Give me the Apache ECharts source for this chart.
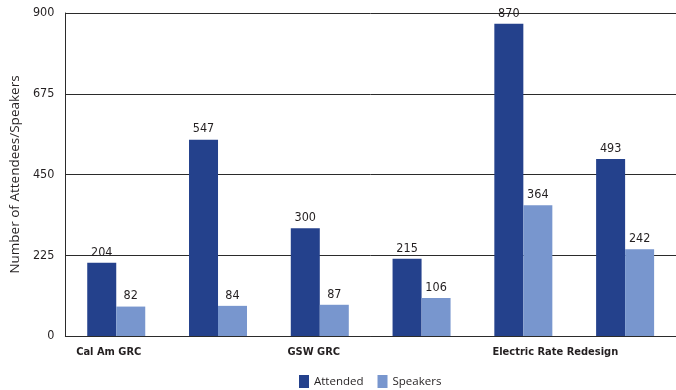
<!DOCTYPE html>
<html>
<head>
<meta charset="utf-8">
<style>
  html, body { margin: 0; padding: 0; background: #ffffff; }
  #chart { width: 676px; height: 390px; }
</style>
<script src="https://cdn.jsdelivr.net/npm/echarts@6/dist/echarts.min.js"></script>
</head>
<body>
<div id="chart"></div>
<script>
// Proceedings: attendance and public speakers per hearing group
const categories = ['Cal Am GRC', '', 'GSW GRC', '', 'Electric Rate Redesign', ''];
const attended = [204, 547, 300, 215, 870, 493];
const speakers = [82, 84, 87, 106, 364, 242];
const yTicks = [0, 225, 450, 675, 900];

// horizontal nudges for the category labels (padding left / right in px)
const labelShift = [[0, 15], null, [0, 12], null, [64, 0], null];

const narrow = "'DejaVu Sans Condensed', 'Liberation Sans Narrow', sans-serif";
const humanist = "'Open Sans', 'Noto Sans', sans-serif";
const lineColor = '#2b2b2b';
const textColor = '#231f20';

const chart = echarts.init(document.getElementById('chart'), null, { renderer: 'canvas' });

const xData = categories.map((c, i) => {
  const s = labelShift[i];
  if (!s) return c;
  return { value: c, textStyle: { padding: [0, s[1], 0, s[0]] } };
});

const valueLabel = {
  show: true,
  position: 'top',
  distance: 4,
  fontFamily: narrow,
  fontSize: 12.5,
  color: textColor
};

chart.setOption({
  animation: false,
  backgroundColor: '#ffffff',
  grid: { left: 62, right: -3, top: 13, bottom: 54, containLabel: false },
  legend: {
    top: 375,
    left: 299,
    padding: 0,
    itemWidth: 10,
    itemHeight: 13,
    itemGap: 14,
    icon: 'rect',
    textStyle: { fontFamily: humanist, fontSize: 11.5, color: textColor },
    data: ['Attended', 'Speakers']
  },
  xAxis: {
    type: 'category',
    data: xData,
    axisLine: { show: true, lineStyle: { color: lineColor, width: 1 } },
    axisTick: { show: false },
    axisLabel: {
      interval: 0,
      margin: 11,
      fontFamily: narrow,
      fontWeight: 'bold',
      fontSize: 11,
      color: textColor
    }
  },
  yAxis: {
    type: 'value',
    min: yTicks[0],
    max: yTicks[yTicks.length - 1],
    interval: yTicks[1] - yTicks[0],
    name: 'Number of Attendees/Speakers',
    nameLocation: 'middle',
    nameGap: 40,
    nameTextStyle: { fontFamily: humanist, fontSize: 13.5, color: textColor },
    axisLine: { show: true, lineStyle: { color: lineColor, width: 1 } },
    axisTick: { show: false },
    splitLine: { show: true, lineStyle: { color: lineColor, width: 1 } },
    axisLabel: {
      margin: 11,
      fontFamily: narrow,
      fontSize: 12.5,
      color: textColor,
      formatter: v => (yTicks.includes(v) ? String(v) : '')
    }
  },
  series: [
    {
      name: 'Attended',
      type: 'bar',
      data: attended,
      barGap: '0%',
      barCategoryGap: '43%',
      itemStyle: { color: '#24418c' },
      label: valueLabel
    },
    {
      name: 'Speakers',
      type: 'bar',
      data: speakers,
      barGap: '0%',
      barCategoryGap: '43%',
      itemStyle: { color: '#7896ce' },
      label: valueLabel
    }
  ]
});
</script>
</body>
</html>
